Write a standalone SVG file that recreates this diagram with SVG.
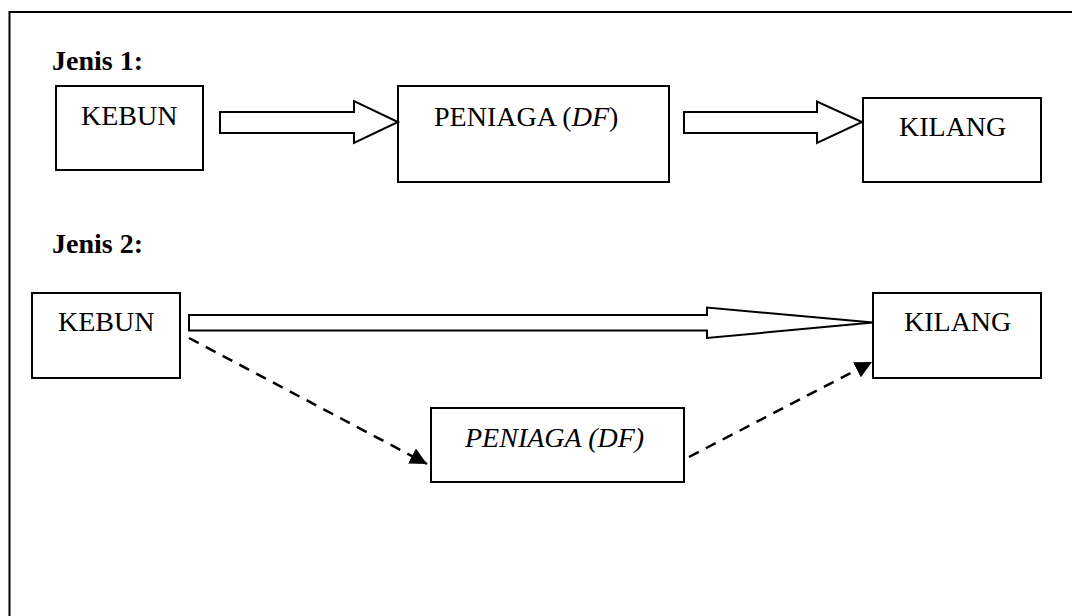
<svg xmlns="http://www.w3.org/2000/svg" width="1072" height="616" viewBox="0 0 1072 616">
<style>
.box{fill:#fff;stroke:#000;stroke-width:2}
.t{font-family:"Liberation Serif","Times New Roman",serif;font-size:28px;fill:#000}
.b{font-weight:bold}
.i{font-style:italic}
.fat{fill:#fff;stroke:#000;stroke-width:2;stroke-linejoin:miter}
.dash{fill:none;stroke:#000;stroke-width:2.5;stroke-dasharray:11 8}
</style>
<defs>
<marker id="ah" viewBox="0 0 10 10" refX="10" refY="5" markerWidth="17" markerHeight="17" markerUnits="userSpaceOnUse" orient="auto">
<path d="M0,0 L10,5 L0,10 z" fill="#000"/>
</marker>
</defs>
<rect width="1072" height="616" fill="#fff"/>
<g id="frame">
<path d="M9.5,616 V12 H1072" fill="none" stroke="#000" stroke-width="2"/>
</g>
<text class="t b" x="52" y="70">Jenis 1:</text>
<text class="t b" x="52" y="253">Jenis 2:</text>
<g id="kebun1"><rect class="box" x="56" y="86" width="147" height="84"/><text class="t" x="81" y="125">KEBUN</text></g>
<g id="peniaga1"><rect class="box" x="398" y="86" width="271" height="96"/><text class="t" x="434" y="126" font-size="29.7">PENIAGA (<tspan class="i">DF</tspan>)</text></g>
<g id="kilang1"><rect class="box" x="863" y="98" width="178" height="84"/><text class="t" x="899" y="136">KILANG</text></g>
<g id="kebun2"><rect class="box" x="32" y="293" width="148" height="85"/><text class="t" x="58" y="331">KEBUN</text></g>
<g id="kilang2"><rect class="box" x="873" y="293" width="168" height="85"/><text class="t" x="904" y="331">KILANG</text></g>
<g id="peniaga2"><rect class="box" x="431" y="408" width="253" height="74"/><text class="t i" x="465" y="447" font-size="30.5">PENIAGA (DF)</text></g>
<g id="connectors">
<path class="fat" d="M220,112 H354 V101 L398,122 L354,143 V133 H220 Z"/>
<path class="fat" d="M684,112 H817 V101.5 L862,122 L817,143 V133 H684 Z"/>
<path class="fat" d="M189,315 H707 V307.5 L873,322.5 L707,338 V330.5 H189 Z"/>
<path class="dash" d="M189,338 L427,464" marker-end="url(#ah)"/>
<path class="dash" d="M689,457 L872,362" marker-end="url(#ah)"/>
</g>
</svg>
